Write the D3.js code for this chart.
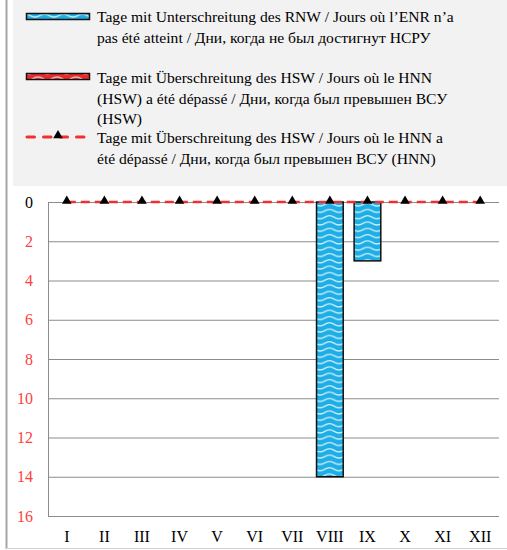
<!DOCTYPE html>
<html><head><meta charset="utf-8">
<script src="https://cdn.jsdelivr.net/npm/d3@7"></script>
<style>body{margin:0;background:#fff}svg{display:block}</style>
</head><body><svg id="c" width="507" height="550" font-family="'Liberation Serif', 'Times New Roman', Times, serif"></svg>
<script>
const months = ["I","II","III","IV","V","VI","VII","VIII","IX","X","XI","XII"];
const belowRNW = [0,0,0,0,0,0,0,14,3,0,0,0];
const aboveHSW = [0,0,0,0,0,0,0,0,0,0,0,0];
const aboveHNN = [0,0,0,0,0,0,0,0,0,0,0,0];
const yTicks = [0,2,4,6,8,10,12,14,16];
const legendLabels = [
  ["Tage mit Unterschreitung des RNW / Jours où l’ENR n’a","pas été atteint / Дни, когда не был достигнут НСРУ"],
  ["Tage mit Überschreitung des HSW / Jours où le HNN","(HSW) a été dépassé / Дни, когда был превышен ВСУ","(HSW)"],
  ["Tage mit Überschreitung des HSW / Jours où le HNN a","été dépassé / Дни, когда был превышен ВСУ (HNN)"]
];

const svg = d3.select("#c");
const defs = svg.append("defs");
function wave(id, bg, off){
  const p = defs.append("pattern").attr("id",id).attr("patternUnits","userSpaceOnUse")
    .attr("x",off).attr("width",19).attr("height",6.3);
  p.append("rect").attr("width",19).attr("height",6.3).attr("fill",bg);
  p.append("path").attr("d","M-9.5,4.5 C-4.75,4.5 -4.75,1.5 0,1.5 C4.75,1.5 4.75,4.5 9.5,4.5 C14.25,4.5 14.25,1.5 19,1.5 C23.75,1.5 23.75,4.5 28.5,4.5")
   .attr("fill","none").attr("stroke","#dff3fb").attr("stroke-width",1.2);
}
wave("wb","#1eaee6",329.5);
wave("wr","#f02828",0);

svg.append("rect").attr("x",13).attr("y",0).attr("width",494).attr("height",186).attr("fill","#f2f2f2");
svg.append("line").attr("x1",6.5).attr("x2",6.5).attr("y1",0).attr("y2",549).attr("stroke","#a6a6a6").attr("stroke-width",2);
svg.append("line").attr("x1",6).attr("x2",507).attr("y1",548.5).attr("y2",548.5).attr("stroke","#d0d0d0").attr("stroke-width",1);

const x = d3.scaleBand().domain(months).range([48,499]).paddingInner(0.29).paddingOuter(0.145);
const y = d3.scaleLinear().domain([0,16]).range([202,516]);

svg.append("g").selectAll("line").data(yTicks).join("line")
  .attr("x1",48).attr("x2",499).attr("y1",d=>y(d)+0.5).attr("y2",d=>y(d)+0.5)
  .attr("stroke","#8c8c8c").attr("stroke-width",1);
svg.append("line").attr("x1",48.5).attr("x2",48.5).attr("y1",y(0)).attr("y2",y(16)+1).attr("stroke","#8c8c8c");

svg.append("g").selectAll("text").data(yTicks).join("text")
  .attr("x",33).attr("y",d=>y(d)+5.5).attr("text-anchor","end").attr("font-size",16)
  .attr("fill",d=>d===0?"#000":"#ff4040").text(d=>d);
svg.append("g").selectAll("text").data(months).join("text")
  .attr("x",d=>x(d)+x.bandwidth()/2).attr("y",542).attr("text-anchor","middle").attr("font-size",16)
  .attr("fill","#000").text(d=>d);

svg.append("g").selectAll("rect").data(months.map((m,i)=>({m,v:belowRNW[i]})).filter(d=>d.v>0)).join("rect")
  .attr("x",d=>x(d.m)).attr("width",x.bandwidth()).attr("y",y(0)).attr("height",d=>y(d.v)-y(0))
  .attr("fill","url(#wb)").attr("stroke","#111").attr("stroke-width",1.5);
svg.append("g").selectAll("rect").data(months.map((m,i)=>({m,v:aboveHSW[i]})).filter(d=>d.v>0)).join("rect")
  .attr("x",d=>x(d.m)).attr("width",x.bandwidth()).attr("y",y(0)).attr("height",d=>y(d.v)-y(0))
  .attr("fill","url(#wr)").attr("stroke","#111").attr("stroke-width",1.5);

const line = d3.line().x((d,i)=>x(months[i])+x.bandwidth()/2).y(d=>y(d));
svg.append("path").datum(aboveHNN).attr("d",d=>line(d)).attr("fill","none")
  .attr("stroke","#f03030").attr("stroke-width",2.5).attr("stroke-dasharray","9,5");
const tri = d3.symbol().type(d3.symbolTriangle).size(40);
svg.append("g").selectAll("path").data(aboveHNN).join("path")
  .attr("transform",(d,i)=>`translate(${x(months[i])+x.bandwidth()/2},${y(d)-1})`)
  .attr("d",tri).attr("fill","#000");

const lg = svg.append("g");
lg.append("rect").attr("x",26.5).attr("y",13.5).attr("width",63).attr("height",6).attr("fill","url(#wb)").attr("stroke","#111").attr("stroke-width",1.5);
lg.append("rect").attr("x",26.5).attr("y",73.5).attr("width",63).attr("height",6).attr("fill","url(#wr)").attr("stroke","#111").attr("stroke-width",1.5);
lg.append("line").attr("x1",27).attr("x2",86).attr("y1",137).attr("y2",137).attr("stroke","#f03030").attr("stroke-width",3).attr("stroke-linecap","round").attr("stroke-dasharray","7.5,9");
lg.append("path").attr("transform","translate(58,135.5)").attr("d",tri).attr("fill","#000");
const starts = [22,83,143];
legendLabels.forEach((lines,k)=>{
  lines.forEach((t,j)=>{
    lg.append("text").attr("x",97).attr("y",starts[k]+j*20.5).attr("font-size",15.6).attr("fill","#000").text(t);
  });
});
</script></body></html>
